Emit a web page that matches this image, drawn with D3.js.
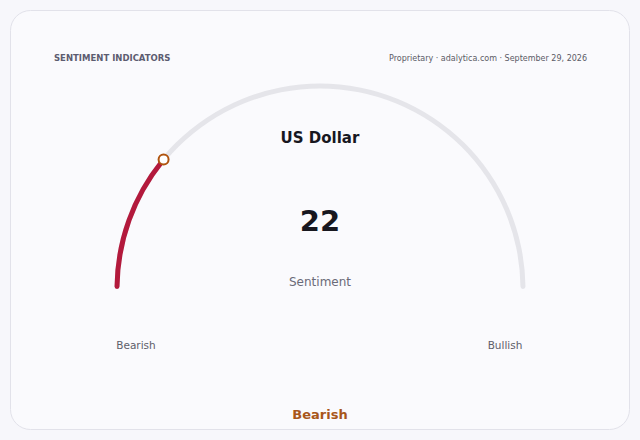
<!DOCTYPE html>
<html>
<head>
<meta charset="utf-8">
<script src="https://cdn.jsdelivr.net/npm/d3@7"></script>
<style>
  html, body { margin: 0; padding: 0; background: #f7f7fb; }
  svg { display: block; font-family: "DejaVu Sans", sans-serif; }
</style>
</head>
<body>
<svg width="640" height="440"></svg>
<script>
const title = "SENTIMENT INDICATORS";
const source = "Proprietary · adalytica.com · September 29, 2026";
const assetName = "US Dollar";
const sentimentValue = 22;
const scaleDomain = [0, 100];
const endLabels = ["Bearish", "Bullish"];
const verdict = "Bearish";

const svg = d3.select("svg");
const cx = 320, cy = 289, r = 203;

// card
svg.append("rect")
  .attr("x", 10.5).attr("y", 10.5)
  .attr("width", 619).attr("height", 419)
  .attr("rx", 20)
  .attr("fill", "#fafafd")
  .attr("stroke", "#e2e2ea");

svg.append("text")
  .attr("x", 54).attr("y", 61)
  .attr("font-size", 8.5).attr("font-weight", "bold")
  .attr("fill", "#5c5c70")
  .text(title);

svg.append("text")
  .attr("x", 587).attr("y", 61)
  .attr("text-anchor", "end")
  .attr("font-size", 8)
  .attr("fill", "#5a5a66")
  .text(source);

// value -> angle (radians, d3.arc convention: 0 at top)
const angle = d3.scaleLinear().domain(scaleDomain).range([-Math.PI / 2, Math.PI / 2]);

const arc = d3.arc()
  .innerRadius(r - 2.5)
  .outerRadius(r + 2.5)
  .cornerRadius(2.5);

const g = svg.append("g").attr("transform", `translate(${cx},${cy})`);

g.append("path")
  .attr("d", arc({ startAngle: angle(scaleDomain[0]), endAngle: angle(scaleDomain[1]) }))
  .attr("fill", "#e5e5ea");

g.append("path")
  .attr("d", arc({ startAngle: angle(scaleDomain[0]), endAngle: angle(sentimentValue) }))
  .attr("fill", "#b3193c");

const a = angle(sentimentValue);
g.append("circle")
  .attr("cx", r * Math.sin(a))
  .attr("cy", -r * Math.cos(a))
  .attr("r", 5)
  .attr("fill", "#ffffff")
  .attr("stroke", "#b0540f")
  .attr("stroke-width", 2);

svg.append("text")
  .attr("x", cx).attr("y", 143)
  .attr("text-anchor", "middle")
  .attr("font-size", 15).attr("font-weight", "bold")
  .attr("fill", "#17171f")
  .text(assetName);

svg.append("text")
  .attr("x", cx).attr("y", 231)
  .attr("text-anchor", "middle")
  .attr("font-size", 29).attr("font-weight", "bold")
  .attr("fill", "#17171f")
  .text(sentimentValue);

svg.append("text")
  .attr("x", cx).attr("y", 286)
  .attr("text-anchor", "middle")
  .attr("font-size", 12)
  .attr("fill", "#6a6a78")
  .text("Sentiment");

svg.selectAll("text.end")
  .data(endLabels)
  .enter().append("text")
  .attr("class", "end")
  .attr("x", (d, i) => i === 0 ? 136 : 505)
  .attr("y", 349)
  .attr("text-anchor", "middle")
  .attr("font-size", 10.5)
  .attr("fill", "#5e5e6a")
  .text(d => d);

svg.append("text")
  .attr("x", cx).attr("y", 419)
  .attr("text-anchor", "middle")
  .attr("font-size", 13).attr("font-weight", "bold")
  .attr("fill", "#a8561a")
  .text(verdict);
</script>
</body>
</html>
